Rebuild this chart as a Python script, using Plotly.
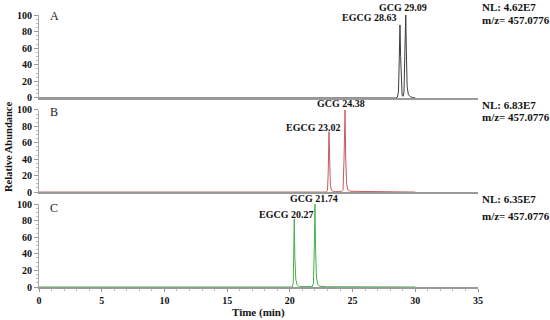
import plotly.graph_objects as go

# chromatogram traces (time in min, relative abundance in %)
A_TIME = [0, 28.45, 28.58, 28.66, 28.72, 28.78, 28.83, 28.88, 28.95, 29.03,
          29.10, 29.16, 29.20, 29.24, 29.29, 29.35, 29.45, 29.6, 29.8, 30.0]
A_ABUND = [0, 0, 1, 8, 45, 88, 50, 12, 3, 2,
           8, 50, 90, 100, 55, 14, 4, 1.5, 0.5, 0]

B_TIME = [0, 22.9, 23.0, 23.06, 23.12, 23.17, 23.23, 23.32, 23.5, 24.1, 24.24,
          24.32, 24.40, 24.45, 24.52, 24.62, 24.8, 25.5, 26.5, 28.0, 30.0]
B_ABUND = [0, 0, 2, 25, 73.5, 30, 8, 2, 0.5, 0.5, 3,
           40, 100, 45, 10, 3, 1, 0.8, 0.5, 0.3, 0]

C_TIME = [0, 20.2, 20.27, 20.31, 20.35, 20.40, 20.47, 20.56, 20.75, 21.8,
          21.88, 21.95, 22.0, 22.05, 22.12, 22.22, 22.4, 23.0, 30.0]
C_ABUND = [0, 0, 5, 40, 82, 35, 10, 3, 0.5, 0.5,
           5, 50, 100, 45, 12, 3, 0.8, 0.3, 0]

PANELS = ['A', 'B', 'C']
NL = ['NL: 4.62E7', 'NL: 6.83E7', 'NL: 6.35E7']
MZ = 'm/z= 457.0776'
PEAK_LABELS = [('EGCG 28.63', 'GCG 29.09'),
               ('EGCG 23.02', 'GCG 24.38'),
               ('EGCG 20.27', 'GCG 21.74')]
COLOURS = ['#3c3c3c', '#c65a5e', '#45b04a']

FONT = 'Liberation Serif'
BOLD = dict(family=FONT, size=10, color='#111', weight='bold')
BOLD11 = dict(family=FONT, size=11, color='#111', weight='bold')

fig = go.Figure()
# panel A -> x3/y3 (top), B -> x2/y2, C -> x/y (bottom)
axes = [('x3', 'y3'), ('x2', 'y2'), ('x', 'y')]
series = [(A_TIME, A_ABUND), (B_TIME, B_ABUND), (C_TIME, C_ABUND)]
for (t, a), (xa, ya), col in zip(series, axes, COLOURS):
    fig.add_trace(go.Scatter(x=t, y=a, mode='lines', xaxis=xa, yaxis=ya,
                             line=dict(color=col, width=1), showlegend=False,
                             hoverinfo='skip'))

yax = dict(range=[0, 100], dtick=20, showgrid=False, zeroline=False,
           showline=True, linecolor='#aaa', linewidth=1, automargin=False,
           ticks='outside', ticklen=4, tickcolor='#999',
           minor=dict(ticks='outside', ticklen=2, dtick=5, tickcolor='#bbb'),
           tickfont=BOLD)
xax = dict(range=[0, 35], showgrid=False, zeroline=False, showline=True,
           linecolor='#9a9a9a', linewidth=1.5, automargin=False)

fig.update_layout(
    width=550, height=320,
    margin=dict(l=39, r=72, t=15, b=33, autoexpand=False),
    paper_bgcolor='white', plot_bgcolor='white',
    xaxis=dict(**xax, anchor='y', dtick=5, ticks='outside', ticklen=3,
               tickcolor='#999',
               minor=dict(ticks='outside', ticklen=2, dtick=1, tickcolor='#bbb'),
               tickfont=BOLD),
    xaxis2=dict(**xax, anchor='y2', matches='x', showticklabels=False),
    xaxis3=dict(**xax, anchor='y3', matches='x', showticklabels=False),
    yaxis=dict(**yax, domain=[0, 0.305], anchor='x'),
    yaxis2=dict(**yax, domain=[0.349, 0.651], anchor='x2'),
    yaxis3=dict(**yax, domain=[0.695, 1], anchor='x3'),
)

# label positions: x in minutes, y in paper units
egcg_pos = [(28.62, 0.989, 'right'), (21.88, 0.588, 'center'), (19.69, 0.265, 'center')]
gcg_pos = [(29.02, 1.026, 'center'), (24.08, 0.676, 'center'), (21.92, 0.324, 'center')]
nl_y = [(1.029, 0.982), (0.669, 0.625), (0.324, 0.261)]
letter_y = [0.996, 0.645, 0.292]

ann = []
for i, (xa, ya) in enumerate(axes):
    eg, gc = PEAK_LABELS[i]
    ann.append(dict(x=egcg_pos[i][0], y=egcg_pos[i][1], xref=xa, yref='paper',
                    text=eg, showarrow=False, yanchor='middle',
                    xanchor=egcg_pos[i][2], font=BOLD))
    ann.append(dict(x=gcg_pos[i][0], y=gcg_pos[i][1], xref=xa, yref='paper',
                    text=gc, showarrow=False, yanchor='middle',
                    xanchor=gcg_pos[i][2], font=BOLD))
    ann.append(dict(x=1, y=nl_y[i][0], xref='paper', yref='paper', xshift=2,
                    text=NL[i], showarrow=False, xanchor='left',
                    yanchor='middle', font=BOLD11))
    ann.append(dict(x=1, y=nl_y[i][1], xref='paper', yref='paper', xshift=2,
                    text=MZ, showarrow=False, xanchor='left',
                    yanchor='middle', font=BOLD11))
    ann.append(dict(x=1.2, y=letter_y[i], xref=xa, yref='paper',
                    text=PANELS[i], showarrow=False, xanchor='center',
                    yanchor='middle',
                    font=dict(family=FONT, size=12, color='#222')))

ann.append(dict(x=0.5, y=0, xref='paper', yref='paper', yshift=-25,
                text='Time (min)', showarrow=False, yanchor='middle',
                xanchor='center', font=BOLD11))
ann.append(dict(x=0, y=0.5, xref='paper', yref='paper', xshift=-31, yshift=4,
                text='Relative Abundance', showarrow=False, textangle=-90,
                xanchor='center', yanchor='middle',
                font=dict(family=FONT, size=10.5, color='#111', weight='bold')))
fig.update_layout(annotations=ann)

# drop the browser's default page margin so the figure sits at the corner
fig.write_html("out.html", config={'displayModeBar': False},
               post_script="document.body.style.margin='0';")
